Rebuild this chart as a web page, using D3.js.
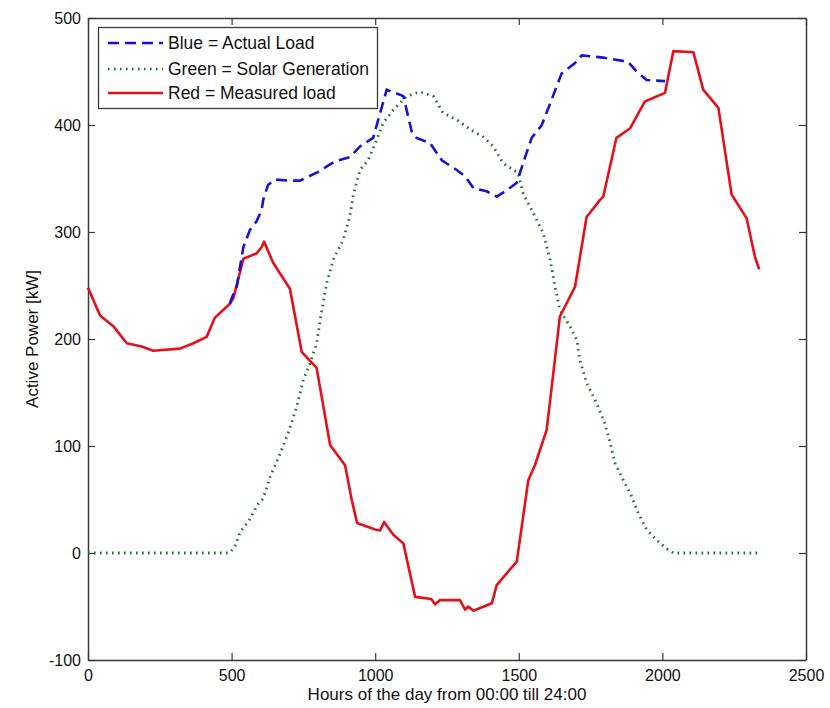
<!DOCTYPE html>
<html><head><meta charset="utf-8">
<script src="https://cdn.jsdelivr.net/npm/d3@7"></script>
<style>body{margin:0;background:#fff}svg{display:block}text{font-family:"Liberation Sans",Arial,sans-serif;fill:#111}</style>
</head><body><div id="c"></div>
<script>
const xTicks=[0,500,1000,1500,2000,2500];
const yTicks=[-100,0,100,200,300,400,500];
const xLabel="Hours of the day from 00:00 till 24:00";
const yLabel="Active Power [kW]";
const legendLabels=["Blue = Actual Load","Green = Solar Generation","Red = Measured load"];

const actualX=[494,500,518,541,564,587,605,610,627,651,700,738,800,860,912,947,993,1017,1040,1069,1098,1127,1144,1191,1232,1284,1313,1342,1388,1423,1458,1493,1522,1545,1580,1609,1649,1696,1719,1794,1881,1910,1945,2009];
const actualY=[233,238,249,286,302,310,321,330,344,349,348,348,356,366,370,380,388,411,433,430,427,394,388,383,367,358,352,341,338,333,339,346,370,388,400,420,448,458,465,463,459,450,442,441];

const solarX=[0,490,510,530,560,590,610,634,669,697,727,750,773,796,814,831,854,889,912,924,947,975,1005,1028,1063,1110,1156,1202,1237,1284,1330,1376,1411,1446,1498,1515,1550,1585,1609,1626,1643,1678,1702,1713,1736,1771,1800,1818,1835,1864,1893,1916,1945,1980,2015,2038,2330];
const solarY=[0,0,5,20,30,45,51,71,93,112,137,162,177,196,227,252,274,293,315,335,358,367,386,402,414,427,431,427,411,405,396,389,380,364,355,336,318,299,274,249,227,212,199,180,159,140,121,103,84,68,53,37,22,12,4,0,0];

const measuredX=[0,42,88,135,187,227,320,367,413,442,494,506,541,587,605,613,645,703,744,796,843,895,918,937,1000,1017,1031,1063,1098,1139,1195,1208,1226,1295,1313,1324,1342,1406,1423,1493,1533,1556,1597,1621,1643,1696,1736,1783,1794,1840,1888,1939,2009,2038,2108,2142,2195,2241,2293,2322,2337];
const measuredY=[248,222,212,196,193,189,191,196,202,220,233,238,275,280,286,291,271,247,188,173,101,82,50,28,22,21,29,17,9,-41,-43,-48,-44,-44,-53,-50,-54,-47,-30,-8,68,82,115,170,221,249,314,330,333,388,397,422,430,469,468,433,416,335,313,277,265];

const W=830,H=708,L=88,R=806,T=18,B=660;
const svg=d3.select("#c").append("svg").attr("width",W).attr("height",H);
const x=d3.scaleLinear().domain([0,2500]).range([L,R]);
const y=d3.scaleLinear().domain([-100,500]).range([B,T]);
const fmt=d=>String(d);

const axCol="#3a3a3a";
const gb=svg.append("g").attr("transform",`translate(0,${B})`).call(d3.axisBottom(x).tickValues(xTicks).tickFormat(fmt).tickSizeInner(-7).tickSizeOuter(0).tickPadding(12));
const gt=svg.append("g").attr("transform",`translate(0,${T})`).call(d3.axisTop(x).tickValues(xTicks).tickSizeInner(-7).tickSizeOuter(0).tickFormat(""));
const gl=svg.append("g").attr("transform",`translate(${L},0)`).call(d3.axisLeft(y).tickValues(yTicks).tickFormat(fmt).tickSizeInner(-7).tickSizeOuter(0).tickPadding(7));
const gr=svg.append("g").attr("transform",`translate(${R},0)`).call(d3.axisRight(y).tickValues(yTicks).tickSizeInner(-7).tickSizeOuter(0).tickFormat(""));
[gb,gt,gl,gr].forEach(g=>{g.select(".domain").attr("stroke",axCol).attr("stroke-width",1.5);g.selectAll(".tick line").attr("stroke",axCol).attr("stroke-width",1.2);g.selectAll("text").style("font-size","16px").attr("fill","#111");});
gb.selectAll("text").attr("dy","0.55em");

const mk=(X,Y)=>X.map((v,i)=>[v,Y[i]]);
const line=d3.line().x(d=>x(d[0])).y(d=>y(d[1]));
svg.append("path").datum(mk(solarX,solarY)).attr("d",line).attr("fill","none").attr("stroke","#1a7326").attr("stroke-width",2.8).attr("stroke-dasharray","1.6,4.4");
svg.append("path").datum(mk(measuredX,measuredY)).attr("d",line).attr("fill","none").attr("stroke","#e5101a").attr("stroke-width",2.6).attr("stroke-linejoin","round");
svg.append("path").datum(mk(actualX,actualY)).attr("d",line).attr("fill","none").attr("stroke","#1414d2").attr("stroke-width",2.6).attr("stroke-dasharray","11,6");

svg.append("text").attr("x",(L+R)/2).attr("y",700).attr("text-anchor","middle").style("font-size","17px").text(xLabel);
svg.append("text").attr("transform",`translate(38,${(T+B)/2}) rotate(-90)`).attr("text-anchor","middle").style("font-size","17px").text(yLabel);

const lg=svg.append("g");
lg.append("rect").attr("x",98.5).attr("y",27.5).attr("width",279).attr("height",81).attr("fill","#fff").attr("stroke",axCol).attr("stroke-width",1.3);
const styles=[{c:"#1414d2",d:"11,6"},{c:"#1a7326",d:"1.6,4.4"},{c:"#e5101a",d:null}];
const rowsY=[43,69,93];
legendLabels.forEach((t,i)=>{
  const s=styles[i];
  const ln=lg.append("line").attr("x1",108).attr("x2",163).attr("y1",rowsY[i]).attr("y2",rowsY[i]).attr("stroke",s.c).attr("stroke-width",2.6);
  if(s.d) ln.attr("stroke-dasharray",s.d);
  lg.append("text").attr("x",168).attr("y",rowsY[i]).attr("dy","0.36em").style("font-size","17.5px").text(t);
});
</script></body></html>
